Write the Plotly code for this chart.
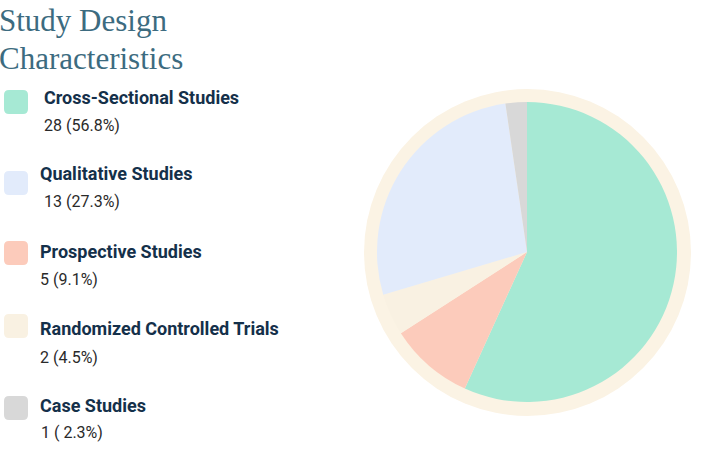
import plotly.graph_objects as go

W, H = 709, 456

categories = ["Cross-Sectional Studies", "Prospective Studies", "Randomized Controlled Trials",
              "Qualitative Studies", "Case Studies"]
counts = [28, 5, 2, 13, 1]
percents = [56.8, 9.1, 4.5, 27.3, 2.3]
count_labels = ["28 (56.8%)", "5 (9.1%)", "2 (4.5%)", "13 (27.3%)", "1 ( 2.3%)"]
colors = ["#a6e9d4", "#fccbbb", "#f9f1e2", "#e2ebfb", "#d8d8d8"]

# legend order (top to bottom)
legend_order = [0, 3, 1, 2, 4]

fig = go.Figure()

def px(x0, x1):
    return [x0 / W, x1 / W]

def py(y0, y1):
    return [1 - y1 / H, 1 - y0 / H]

# outer cream ring
fig.add_trace(go.Pie(values=[1], marker=dict(colors=["#fbf3e4"], line=dict(width=0)),
                     textinfo="none", hoverinfo="skip", sort=False, showlegend=False,
                     domain=dict(x=px(364, 691), y=py(89, 416))))
# main pie
fig.add_trace(go.Pie(labels=categories, values=percents,
                     marker=dict(colors=colors, line=dict(width=0)),
                     textinfo="none", sort=False, direction="clockwise", rotation=0,
                     showlegend=False,
                     domain=dict(x=px(377, 677), y=py(102, 402))))

shapes = []
annotations = []

# title
for txt, yc in [("Study Design", 20), ("Characteristics", 58)]:
    annotations.append(dict(x=0, y=1 - yc / H, xref="paper", yref="paper", xanchor="left", yanchor="middle",
                            text=txt, showarrow=False, borderpad=0, xshift=-2,
                            font=dict(family="Liberation Serif", size=31, color="#3c6b80")))

sq_tops = [90, 171, 241, 314, 396]
label_y = [97, 173, 251, 328, 405]
sub_y = [125, 201, 279, 357, 432]
label_x = [44, 40, 40, 40, 40]
sub_x = [44, 44, 40, 40, 41]

def rounded_rect(x0, y0, x1, y1, r):
    def X(v): return v / W
    def Y(v): return 1 - v / H
    return (f"M {X(x0 + r)} {Y(y0)} L {X(x1 - r)} {Y(y0)} Q {X(x1)} {Y(y0)} {X(x1)} {Y(y0 + r)} "
            f"L {X(x1)} {Y(y1 - r)} Q {X(x1)} {Y(y1)} {X(x1 - r)} {Y(y1)} "
            f"L {X(x0 + r)} {Y(y1)} Q {X(x0)} {Y(y1)} {X(x0)} {Y(y1 - r)} "
            f"L {X(x0)} {Y(y0 + r)} Q {X(x0)} {Y(y0)} {X(x0 + r)} {Y(y0)} Z")

for row, idx in enumerate(legend_order):
    t = sq_tops[row]
    shapes.append(dict(type="path", xref="paper", yref="paper",
                       path=rounded_rect(4, t, 28, t + 24, 5),
                       fillcolor=colors[idx], line=dict(width=0)))
    annotations.append(dict(x=label_x[row] / W, y=1 - label_y[row] / H, xref="paper", yref="paper",
                            xanchor="left", yanchor="middle", showarrow=False, borderpad=0, xshift=-1,
                            text=f"<b>{categories[idx]}</b>",
                            font=dict(family="Roboto", size=18, color="#14304a")))
    annotations.append(dict(x=sub_x[row] / W, y=1 - sub_y[row] / H, xref="paper", yref="paper",
                            xanchor="left", yanchor="middle", showarrow=False, borderpad=0, xshift=-1,
                            text=count_labels[idx],
                            font=dict(family="Roboto", size=16, color="#2a2a2a")))

fig.update_layout(width=W, height=H, margin=dict(l=0, r=0, t=0, b=0),
                  paper_bgcolor="white", plot_bgcolor="white",
                  shapes=shapes, annotations=annotations)

fig.write_html("out.html")
